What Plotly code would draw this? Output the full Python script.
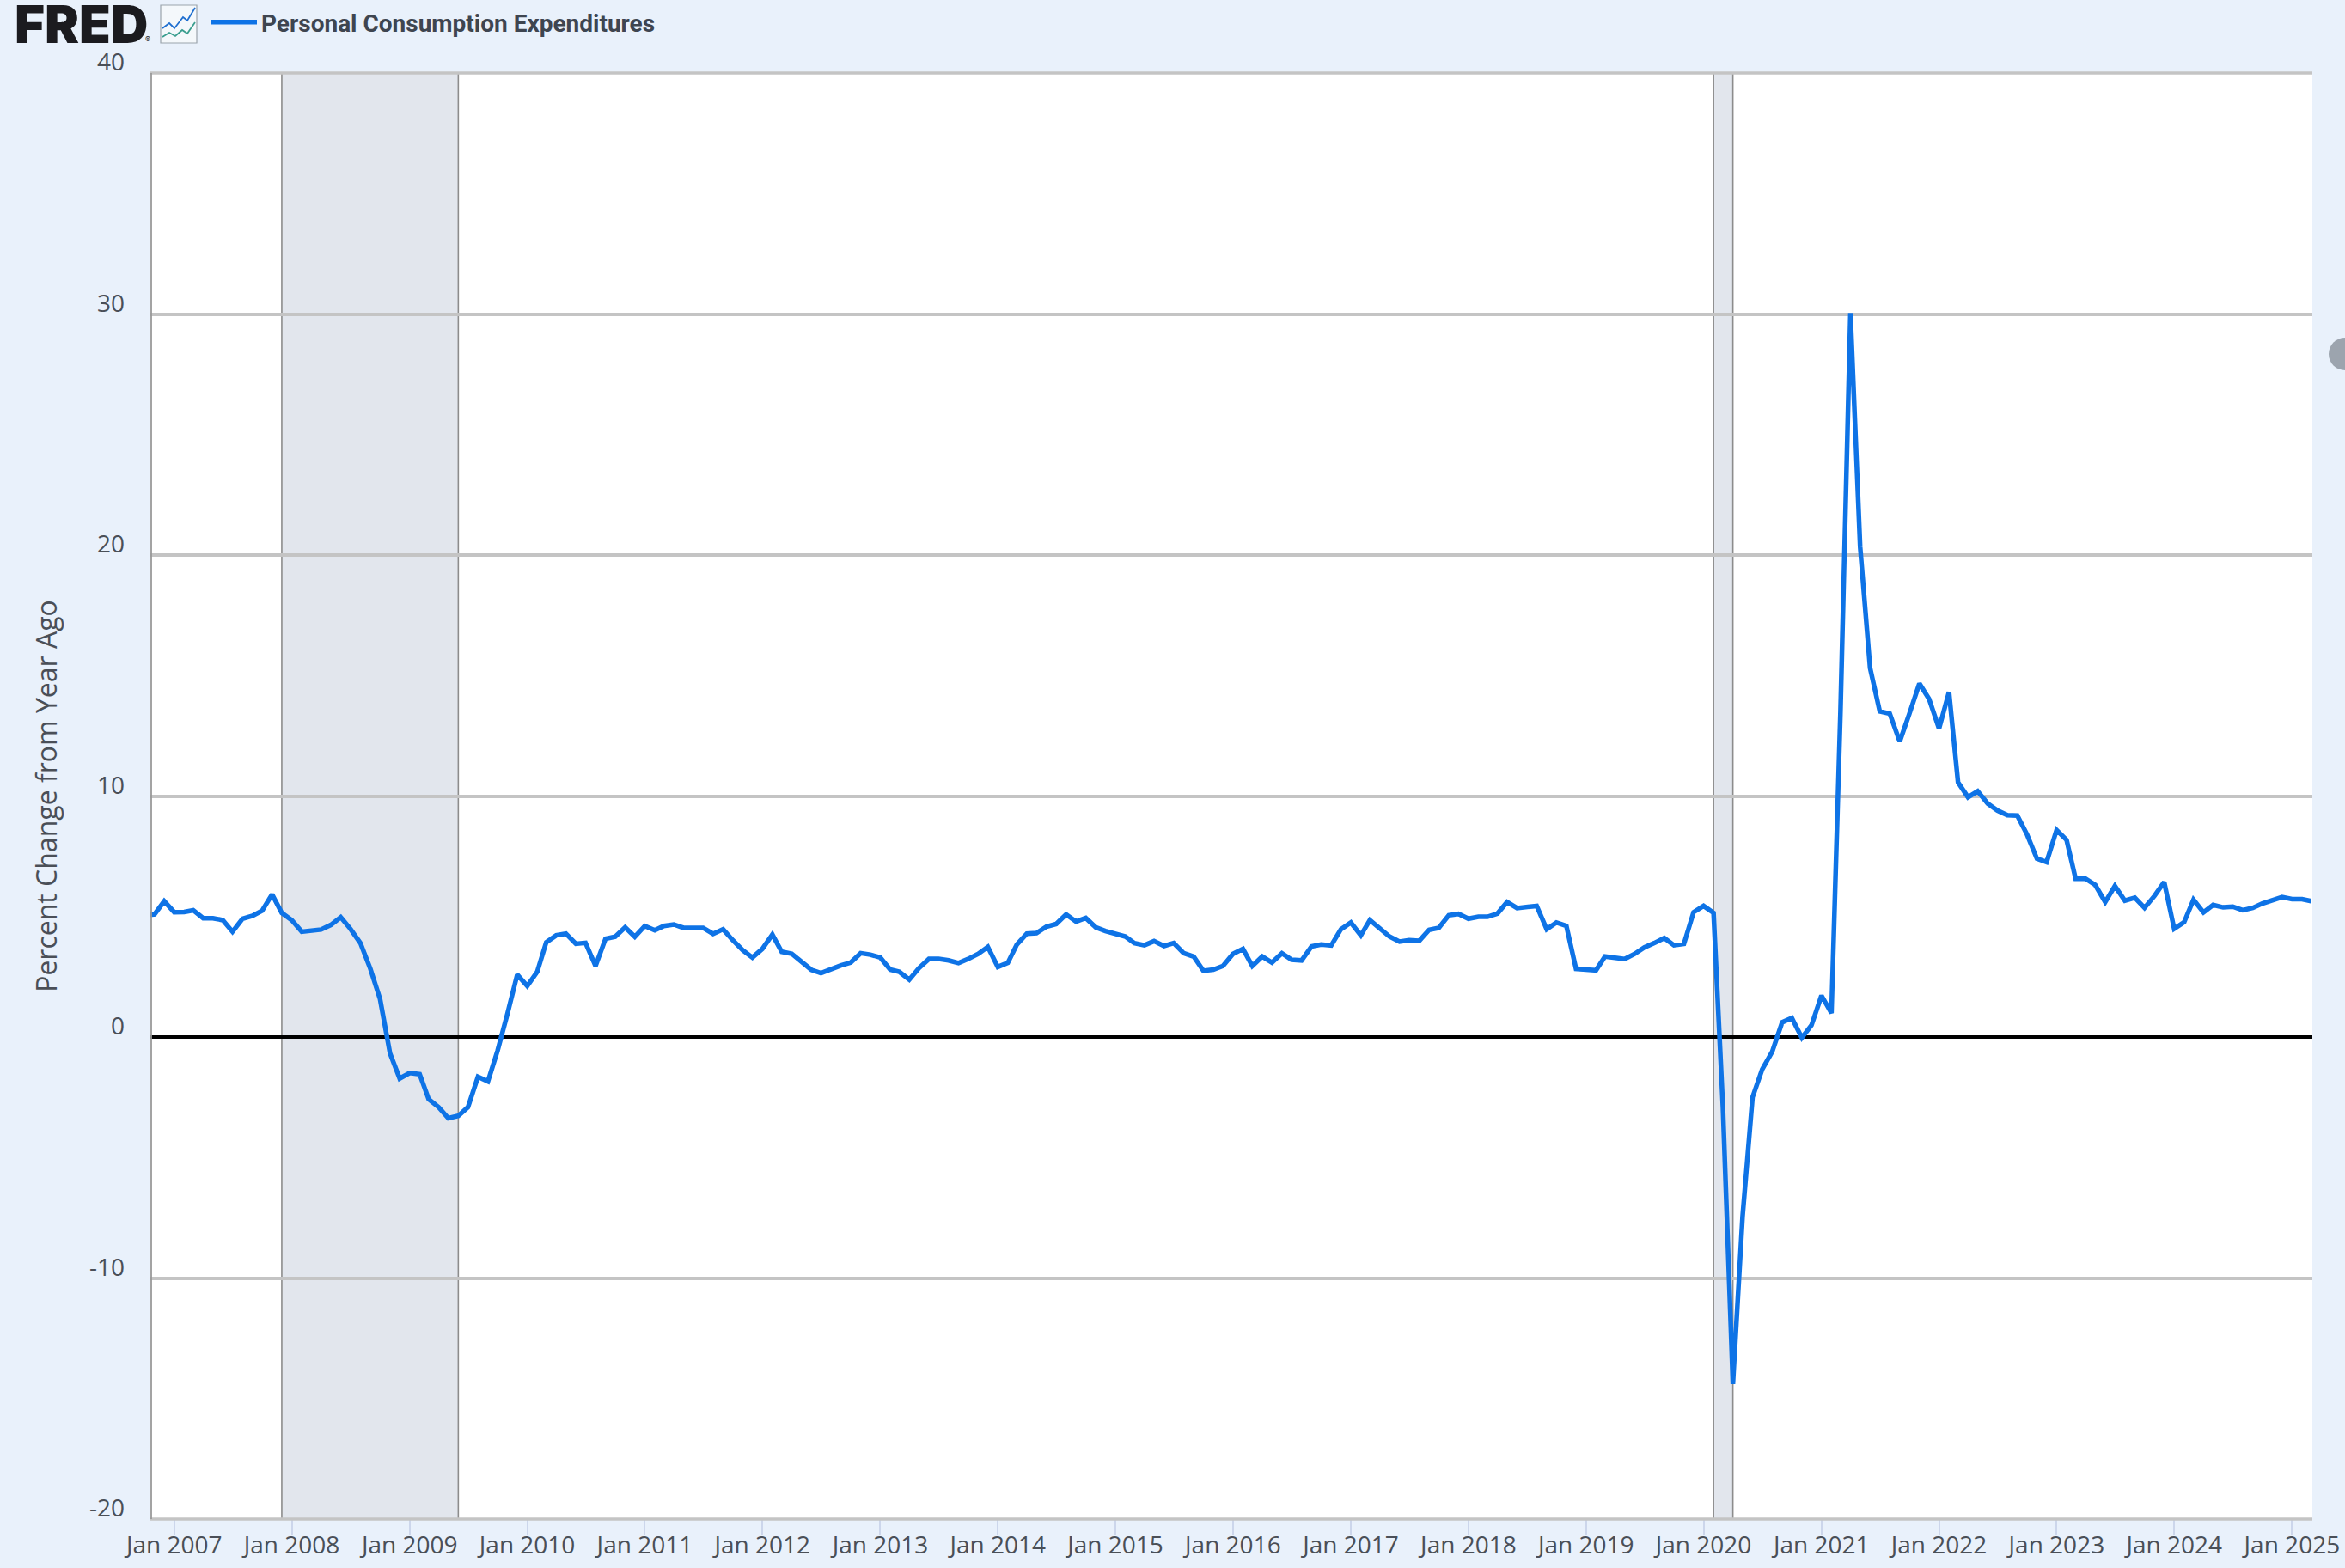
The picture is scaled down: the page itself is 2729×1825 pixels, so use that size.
import plotly.graph_objects as go
import pandas as pd

W, H = 2729, 1825
L, R, T, B = 175, 2691, 85, 1768

series_name = "Personal Consumption Expenditures"
y_title = "Percent Change from Year Ago"

v2006 = [5.05, 5.09, 5.64]
v2007 = [5.18, 5.19, 5.26, 4.93, 4.93, 4.85, 4.37, 4.91, 5.03, 5.24, 5.92, 5.15]
v2008 = [4.85, 4.37, 4.43, 4.46, 4.65, 4.97, 4.49, 3.90, 2.83, 1.58, -0.68, -1.72]
v2009 = [-1.49, -1.54, -2.58, -2.91, -3.37, -3.27, -2.91, -1.65, -1.84, -0.56, 0.99, 2.59]
v2010 = [2.12, 2.71, 3.93, 4.22, 4.29, 3.87, 3.91, 2.95, 4.08, 4.16, 4.55, 4.16]
v2011 = [4.61, 4.43, 4.61, 4.67, 4.53, 4.53, 4.53, 4.28, 4.47, 4.02, 3.60, 3.30]
v2012 = [3.66, 4.25, 3.54, 3.46, 3.16, 2.79, 2.65, 2.83, 2.97, 3.09, 3.48, 3.42]
v2013 = [3.30, 2.80, 2.71, 2.38, 2.86, 3.24, 3.24, 3.18, 3.07, 3.24, 3.45, 3.74]
v2014 = [2.91, 3.08, 3.84, 4.29, 4.31, 4.58, 4.69, 5.09, 4.79, 4.94, 4.55, 4.40]
v2015 = [4.28, 4.17, 3.90, 3.81, 3.98, 3.78, 3.90, 3.48, 3.34, 2.75, 2.80, 2.95]
v2016 = [3.45, 3.66, 2.95, 3.34, 3.09, 3.48, 3.21, 3.18, 3.76, 3.84, 3.80, 4.47]
v2017 = [4.75, 4.22, 4.85, 4.49, 4.17, 3.96, 4.02, 3.99, 4.45, 4.53, 5.05, 5.11]
v2018 = [4.91, 4.99, 4.99, 5.12, 5.60, 5.35, 5.38, 5.44, 4.47, 4.75, 4.61, 2.83]
v2019 = [2.80, 2.77, 3.34, 3.28, 3.24, 3.45, 3.72, 3.90, 4.11, 3.81, 3.87, 5.18]
v2020 = [5.44, 5.15, -2.9, -14.4, -7.45, -2.50, -1.34, -0.61, 0.61, 0.79, -0.03, 0.49]
v2021 = [1.72, 0.99, 13.5, 30.04, 20.35, 15.31, 13.51, 13.42, 12.26, 13.42, 14.67, 14.03]
v2022 = [12.80, 14.31, 10.57, 9.95, 10.20, 9.69, 9.40, 9.21, 9.19, 8.41, 7.40, 7.26]
v2023 = [8.59, 8.18, 6.57, 6.57, 6.31, 5.60, 6.27, 5.66, 5.78, 5.36, 5.86, 6.43]
v2024 = [4.49, 4.77, 5.70, 5.17, 5.48, 5.38, 5.41, 5.26, 5.36, 5.54, 5.67, 5.81]
v2025 = [5.72, 5.72, 5.64]

values = (v2006 + v2007 + v2008 + v2009 + v2010 + v2011 + v2012 + v2013 + v2014 + v2015
          + v2016 + v2017 + v2018 + v2019 + v2020 + v2021 + v2022 + v2023 + v2024 + v2025)
dates = pd.date_range("2006-10-01", periods=len(values), freq="MS")

recession_starts = ["2007-12-01", "2020-02-01"]
recession_ends = ["2009-06-01", "2020-04-01"]
y_ticks = [-20, -10, 0, 10, 20, 30, 40]
x_range = ["2006-10-19", "2025-03-05"]

BG = "#E9F1FB"
TXT = "#4A4F57"
GRID = "#C4C4C4"


def px(x):
    return (x - L) / (R - L)


def py(y):
    return (B - y) / (B - T)


fig = go.Figure()
fig.add_trace(go.Scatter(
    x=dates, y=values, mode="lines", name=series_name,
    line=dict(color="#0E73E6", width=5.5), hoverinfo="x+y",
))

shapes = []
for s, e in zip(recession_starts, recession_ends):
    shapes.append(dict(type="rect", xref="x", yref="paper", x0=s, x1=e, y0=0, y1=1,
                       fillcolor="#E2E6ED", line=dict(width=0), layer="below"))
    for edge in (s, e):
        shapes.append(dict(type="line", xref="x", yref="paper", x0=edge, x1=edge, y0=0, y1=1,
                           line=dict(color="#8C8C8C", width=1.6), layer="below"))

# plotly omits gridlines at the very ends of the range; the reference has them
for edge in (0, 1):
    shapes.append(dict(type="line", xref="paper", yref="paper", x0=0, x1=1, y0=edge, y1=edge,
                       line=dict(color=GRID, width=3.6)))
# left border of the plot
shapes.append(dict(type="line", xref="paper", yref="paper", x0=px(176), x1=px(176), y0=0, y1=1,
                   line=dict(color="#999999", width=1.8)))

# FRED graph icon in the header
shapes.append(dict(type="rect", xref="paper", yref="paper", x0=px(187), x1=px(229), y0=py(50), y1=py(6),
                   fillcolor="#F4F8FB", line=dict(color="#9AA3AB", width=1.2)))


def path(points):
    return "M " + " L ".join(f"{px(a):.5f},{py(b):.5f}" for a, b in points)


shapes.append(dict(type="path", xref="paper", yref="paper",
                   path=path([(189, 33), (197, 27), (203, 33), (213, 20), (218, 24), (227, 9)]),
                   line=dict(color="#1F6FD0", width=1.8)))
shapes.append(dict(type="path", xref="paper", yref="paper",
                   path=path([(189, 43), (197, 38), (204, 42), (212, 35), (218, 39), (227, 26)]),
                   line=dict(color="#3A9E8F", width=1.8)))
# grey handle at the right edge
shapes.append(dict(type="circle", xref="paper", yref="paper", x0=px(2710), x1=px(2748),
                   y0=py(431), y1=py(393), fillcolor="#9CA4AE", line=dict(width=0)))

annotations = [
    dict(text="FRED", xref="paper", yref="paper", x=px(94), y=py(28), showarrow=False,
         xanchor="center", yanchor="middle",
         font=dict(family="Inter", size=60, color="#1B1B1F", weight=900)),
    dict(text="®", xref="paper", yref="paper", x=px(172), y=py(46), showarrow=False,
         xanchor="center", yanchor="middle", font=dict(family="Inter", size=9, color="#1B1B1F")),
]
# value-axis labels sit just above their gridlines
for v in y_ticks:
    annotations.append(dict(text=str(v), xref="paper", yref="y", x=px(147), y=v, yshift=14,
                            showarrow=False, xanchor="right", yanchor="middle", align="right",
                            font=dict(family="Open Sans", size=28, color=TXT)))

fig.update_layout(
    width=W, height=H, autosize=False,
    margin=dict(l=L, r=W - R, t=T, b=H - B, autoexpand=False),
    paper_bgcolor=BG, plot_bgcolor="#FFFFFF",
    showlegend=True,
    legend=dict(x=px(240), y=py(26), xanchor="left", yanchor="middle", orientation="h",
                bgcolor="rgba(0,0,0,0)", itemwidth=54,
                font=dict(family="Roboto", size=28, color="#3E4550", weight=700)),
    shapes=shapes, annotations=annotations,
    xaxis=dict(type="date", range=x_range, dtick="M12", tick0="2007-01-01", tickformat="%b %Y",
               showgrid=False, showline=False,
               ticks="outside", ticklen=18, tickwidth=1.5, tickcolor="#CCD6EB", ticklabelstandoff=-13,
               tickfont=dict(family="Open Sans", size=28, color=TXT), zeroline=False),
    yaxis=dict(range=[-20, 40], tickvals=y_ticks, showgrid=True, gridcolor=GRID, gridwidth=3.6,
               zeroline=True, zerolinecolor="#000000", zerolinewidth=4,
               showline=False,
               ticks="", showticklabels=False,
               title=dict(text=y_title, standoff=97,
                          font=dict(family="Open Sans", size=32, color=TXT))),
)

post = ("document.body.style.margin='0';document.body.style.background='%s';"
        "document.querySelectorAll('.js-line').forEach(function(e){e.style.strokeLinejoin='miter';});" % BG)
fig.write_html("out.html", post_script=post, config=dict(displayModeBar=False))
